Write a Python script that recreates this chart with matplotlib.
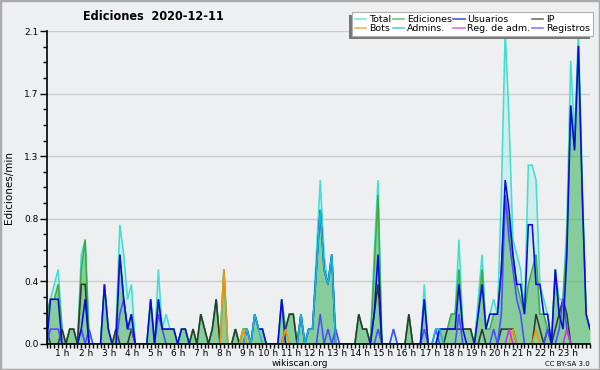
import numpy as np
import matplotlib
matplotlib.use("Agg")
import matplotlib.pyplot as plt
from matplotlib.lines import Line2D
from matplotlib.patches import Rectangle
from matplotlib.ticker import FixedLocator

# edits per 10-minute slot, starting at 00:00 (two hours per row)
total = [2, 3, 4, 5, 1, 0, 1, 1, 0, 6, 7, 1,
         0, 0, 0, 4, 1, 0, 1, 8, 6, 3, 4, 0,
         0, 0, 0, 3, 0, 5, 1, 2, 1, 1, 0, 1,
         1, 0, 1, 0, 2, 1, 0, 1, 3, 0, 5, 0,
         0, 1, 0, 1, 1, 0, 2, 1, 1, 0, 0, 0,
         0, 3, 1, 2, 2, 0, 2, 0, 1, 1, 6, 11,
         6, 4, 6, 1, 0, 0, 0, 0, 0, 2, 1, 1,
         0, 6, 11, 0, 0, 0, 1, 0, 0, 0, 2, 0,
         0, 0, 4, 0, 0, 1, 1, 1, 1, 2, 2, 7,
         1, 1, 1, 0, 3, 6, 1, 2, 3, 2, 10, 21,
         15, 7, 6, 5, 2, 12, 12, 11, 4, 3, 2, 0,
         5, 3, 3, 8, 19, 14, 21, 11, 2, 1]
ediciones = [2, 3, 3, 4, 1, 0, 1, 1, 0, 5, 7, 0,
             0, 0, 0, 4, 1, 0, 1, 6, 3, 1, 2, 0,
             0, 0, 0, 3, 0, 3, 1, 1, 1, 1, 0, 1,
             1, 0, 1, 0, 2, 1, 0, 1, 3, 0, 5, 0,
             0, 1, 0, 1, 1, 0, 2, 1, 1, 0, 0, 0,
             0, 3, 1, 2, 2, 0, 2, 0, 1, 1, 5, 9,
             5, 4, 6, 0, 0, 0, 0, 0, 0, 2, 1, 1,
             0, 5, 10, 0, 0, 0, 0, 0, 0, 0, 2, 0,
             0, 0, 3, 0, 0, 0, 1, 1, 1, 2, 2, 5,
             1, 1, 1, 0, 2, 5, 1, 1, 2, 2, 5, 10,
             8, 6, 4, 3, 2, 4, 5, 6, 2, 2, 1, 0,
             5, 2, 3, 7, 16, 13, 20, 10, 2, 1]
usuarios = [0, 3, 3, 3, 0, 0, 0, 0, 0, 1, 3, 0,
            0, 0, 0, 4, 1, 0, 0, 6, 3, 1, 2, 0,
            0, 0, 0, 3, 0, 3, 1, 1, 1, 1, 0, 1,
            1, 0, 0, 0, 0, 0, 0, 0, 0, 0, 0, 0,
            0, 0, 0, 0, 1, 0, 2, 1, 1, 0, 0, 0,
            0, 3, 0, 0, 0, 0, 2, 0, 1, 1, 5, 9,
            5, 4, 6, 0, 0, 0, 0, 0, 0, 0, 0, 0,
            0, 2, 6, 0, 0, 0, 0, 0, 0, 0, 0, 0,
            0, 0, 3, 0, 0, 0, 1, 1, 1, 1, 1, 4,
            1, 0, 0, 0, 2, 4, 1, 2, 2, 2, 5, 11,
            9, 6, 4, 4, 2, 8, 8, 4, 4, 2, 2, 0,
            5, 2, 1, 6, 16, 13, 20, 10, 2, 1]
ip = [1, 0, 0, 0, 1, 0, 1, 1, 0, 4, 4, 0,
      0, 0, 0, 0, 0, 0, 1, 0, 0, 0, 1, 0,
      0, 0, 0, 0, 0, 0, 0, 0, 0, 0, 0, 0,
      0, 0, 1, 0, 2, 1, 0, 1, 3, 0, 0, 0,
      0, 1, 0, 0, 0, 0, 0, 0, 0, 0, 0, 0,
      0, 0, 1, 2, 2, 0, 0, 0, 0, 0, 0, 0,
      0, 0, 0, 0, 0, 0, 0, 0, 0, 2, 1, 1,
      0, 2, 4, 0, 0, 0, 0, 0, 0, 0, 2, 0,
      0, 0, 0, 0, 0, 0, 0, 0, 1, 1, 1, 1,
      1, 1, 1, 0, 0, 1, 0, 0, 0, 0, 1, 1,
      1, 1, 0, 0, 0, 0, 0, 2, 1, 0, 1, 0,
      1, 2, 3, 2, 0, 0, 0, 0, 0, 0]
bots = [0] * 46 + [5, 0, 0, 0, 0, 1] + [0] * 10 + [1] + [0] * 58 + [1] + [0] * 5 + [1] + [0] * 14
admins = ([0] * 52 + [1, 0, 2, 1] + [0] * 10 + [2, 0, 1, 1, 5, 9, 5, 4, 6]
          + [0] * 26 + [1, 1] + [0] * 39)
reg_adm = [0] * 120 + [1] + [0] * 14 + [1] + [0] * 6
registros = [0, 1, 1, 1, 0, 0, 0, 0, 0, 1, 0, 1,
             0, 0, 0, 0, 0, 0, 0, 2, 3, 1, 1, 0,
             0, 0, 0, 0, 0, 2, 1, 0, 0, 0, 0, 0,
             0, 0, 0, 0, 0, 0, 0, 0, 0, 0, 0, 0,
             0, 0, 0, 0, 0, 0, 0, 0, 0, 0, 0, 0,
             0, 0, 0, 0, 0, 0, 0, 0, 0, 0, 0, 2,
             0, 1, 0, 1, 0, 0, 0, 0, 0, 0, 0, 0,
             0, 0, 1, 0, 0, 0, 1, 0, 0, 0, 0, 0,
             0, 0, 1, 0, 0, 1, 0, 0, 0, 0, 0, 2,
             0, 0, 0, 0, 0, 0, 0, 0, 1, 0, 2, 10,
             7, 5, 3, 2, 0, 0, 0, 0, 0, 0, 1, 0,
             0, 1, 3, 1, 0, 0, 0, 0, 0, 0]

hours = list(range(1, 24))
hour_labels = [f"{h} h" for h in hours]
y_ticks = [0.0, 0.42, 0.84, 1.26, 1.68, 2.1]
y_labels = ["0.0", "0.4", "0.8", "1.3", "1.7", "2.1"]

BG = "#eeeff1"
series = [
    ("Total", total, "#40e0d0"),
    ("Ediciones", ediciones, "#3aad45"),
    ("IP", ip, "#2f3b30"),
    ("Registros", registros, "#4b4bff"),
    ("Usuarios", usuarios, "#0a0ae0"),
    ("Admins.", admins, "#1eb4dc"),
    ("Bots", bots, "#f0960f"),
    ("Reg. de adm.", reg_adm, "#cc33dd"),
]

x = np.arange(len(total)) / 6.0  # hours

fig = plt.figure(figsize=(6, 3.7), dpi=100, facecolor=BG)
ax = fig.add_axes([0.0777, 0.0703, 0.9056, 0.8459], facecolor=BG)

per_min = {name: np.array(vals) / 10.0 for name, vals, _ in series}
ax.fill_between(x, 0, per_min["Total"], color="#40e0d0", alpha=0.16, lw=0)
ax.fill_between(x, 0, per_min["Ediciones"], color="#3cb04c", alpha=0.5, lw=0)
for name, vals, col in series:
    ax.plot(x, per_min[name], color=col, lw=1.15, solid_joinstyle="miter")

ax.set_xlim(0, 23.5)
ax.set_ylim(0, 2.1)
ax.yaxis.set_major_locator(FixedLocator(y_ticks))
ax.yaxis.set_minor_locator(FixedLocator(np.arange(0, 2.11, 0.105)))
ax.set_yticklabels(y_labels)
ax.xaxis.set_major_locator(FixedLocator(hours))
ax.xaxis.set_minor_locator(FixedLocator(np.arange(0, 23.51, 1 / 6)))
ax.set_xticklabels(hour_labels)
for lab in ax.get_xticklabels():
    lab.set_ha("right")

ax.grid(axis="y", color="#cccccc", lw=1)
ax.set_axisbelow(True)
for s in ("top", "right"):
    ax.spines[s].set_visible(False)
for s in ("left", "bottom"):
    ax.spines[s].set_color("black")
    ax.spines[s].set_linewidth(1.2)
    ax.spines[s].set_zorder(3)
ax.tick_params(axis="y", which="major", length=5, width=1, labelsize=6.5, pad=1)
ax.tick_params(axis="y", which="minor", length=3, width=1)
ax.tick_params(axis="x", which="both", length=3, width=1, labelsize=6.5, pad=0.5)

fig.text(153 / 600, 1 - 17 / 370, "Ediciones  2020-12-11", ha="center", va="center",
         fontsize=9, fontweight="bold", fontstretch="condensed")
fig.text(9 / 600, 1 - 188 / 370, "Ediciones/min", rotation=90, ha="center", va="center",
         fontsize=7.5)
fig.text(0.5, 1 - 363.5 / 370, "wikiscan.org", ha="center", va="center", fontsize=6.5)
fig.text(590 / 600, 1 - 363.5 / 370, "CC BY-SA 3.0", ha="right", va="center", fontsize=5)

# legend, column-major order
colors = {name: col for name, _, col in series}
order = ["Total", "Bots", "Ediciones", "Admins.", "Usuarios", "Reg. de adm.", "IP", "Registros"]
handles = [Line2D([], [], color=colors[n], lw=1.2, alpha=0.7) for n in order]
leg = fig.legend(handles, order, ncol=4, loc="upper right",
                 bbox_to_anchor=(593 / 600, 1 - 12 / 370), fontsize=6.8,
                 frameon=True, fancybox=False, edgecolor="#b0b0b0", facecolor="white",
                 framealpha=1, handlelength=1.2, handletextpad=0.3, columnspacing=0.15,
                 labelspacing=0.05, borderpad=0.3, borderaxespad=0)
leg.get_frame().set_linewidth(0.8)

fig.canvas.draw()
bb = leg.get_window_extent()
W, H = fig.bbox.width, fig.bbox.height
fig.add_artist(Rectangle(((bb.x0 - 3) / W, (bb.y0 - 3) / H), bb.width / W, bb.height / H,
                         transform=fig.transFigure, facecolor="#777777", edgecolor="none",
                         zorder=4))
leg.set_zorder(5)

fig.add_artist(Rectangle((0, 0), 1, 1, transform=fig.transFigure, fill=False,
                         edgecolor="#aaaaaa", lw=2.5, zorder=10))

fig.savefig("out.png", dpi=100, facecolor=BG)
